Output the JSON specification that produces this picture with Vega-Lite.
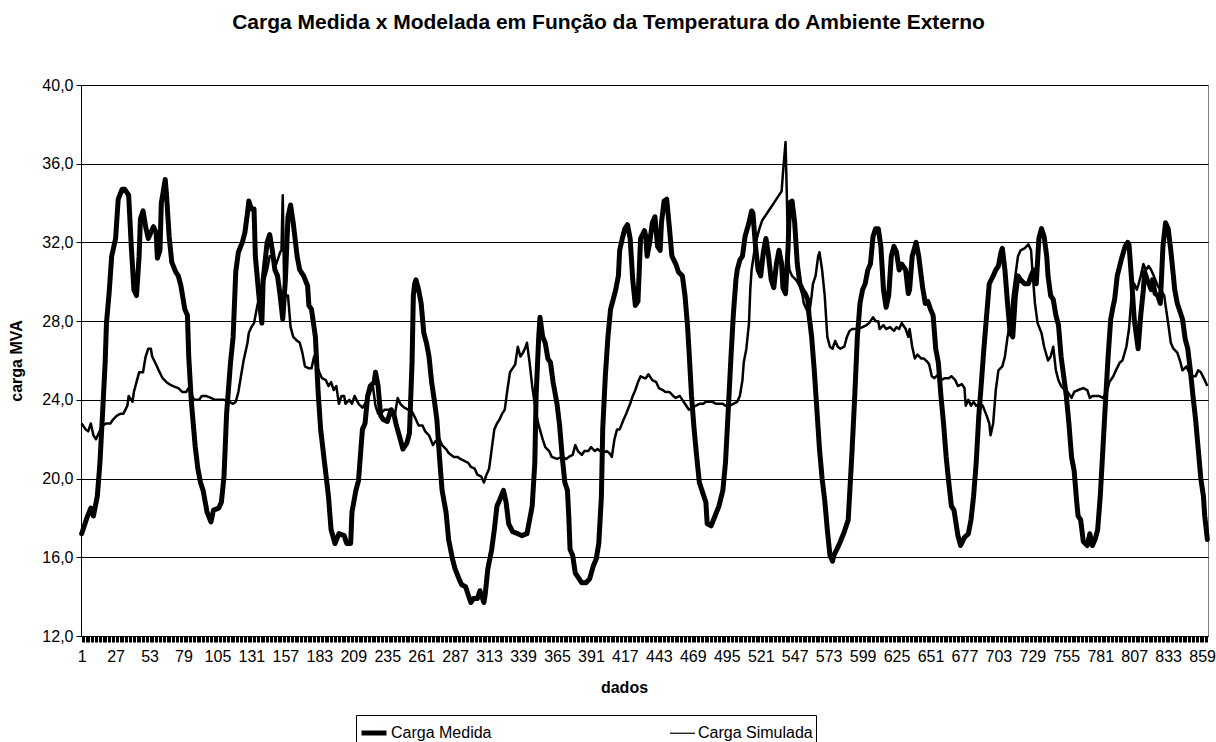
{
  "$schema": "https://vega.github.io/schema/vega-lite/v6.json",
  "width": 1127,
  "height": 551,
  "autosize": {"type": "none"},
  "padding": {"left": 81, "top": 85, "right": 8, "bottom": 106},
  "background": "white",
  "config": {"font": "Liberation Sans", "view": {"stroke": "#808080", "strokeWidth": 1}},
  "title": {"text": "Carga Medida x Modelada em Função da Temperatura do Ambiente Externo", "fontSize": 21, "fontWeight": "bold", "color": "#000", "anchor": "middle", "frame": "group", "dx": -36, "offset": 27, "baseline": "alphabetic"},
  "datasets": {
    "medida": [
      {"i":1,"v":17.2},{"i":5,"v":18.0},{"i":8,"v":18.5},{"i":10,"v":18.1},{"i":13,"v":19.1},{"i":15,"v":20.8},{"i":17,"v":23.3},{"i":19,"v":25.9},{"i":20,"v":27.9},{"i":22,"v":29.4},{"i":24,"v":31.3},{"i":27,"v":32.2},{"i":29,"v":34.2},{"i":32,"v":34.7},{"i":34,"v":34.7},{"i":37,"v":34.4},{"i":39,"v":31.8},{"i":41,"v":29.6},{"i":43,"v":29.3},{"i":45,"v":31.3},{"i":46,"v":33.2},{"i":48,"v":33.6},{"i":50,"v":32.8},{"i":52,"v":32.2},{"i":54,"v":32.5},{"i":56,"v":32.8},{"i":58,"v":32.5},{"i":59,"v":31.2},{"i":61,"v":31.6},{"i":62,"v":34.0},{"i":65,"v":35.2},{"i":66,"v":34.4},{"i":68,"v":32.3},{"i":70,"v":31.0},{"i":73,"v":30.5},{"i":75,"v":30.3},{"i":77,"v":29.8},{"i":80,"v":28.6},{"i":82,"v":28.3},{"i":83,"v":26.2},{"i":85,"v":23.9},{"i":88,"v":21.6},{"i":90,"v":20.5},{"i":92,"v":19.8},{"i":94,"v":19.4},{"i":97,"v":18.3},{"i":100,"v":17.8},{"i":102,"v":18.4},{"i":106,"v":18.5},{"i":108,"v":18.8},{"i":110,"v":20.1},{"i":112,"v":23.3},{"i":115,"v":25.9},{"i":117,"v":27.2},{"i":119,"v":30.5},{"i":121,"v":31.5},{"i":124,"v":32.0},{"i":126,"v":32.5},{"i":128,"v":33.5},{"i":129,"v":34.1},{"i":131,"v":33.7},{"i":133,"v":33.7},{"i":134,"v":31.3},{"i":137,"v":29.1},{"i":139,"v":27.9},{"i":140,"v":30.1},{"i":143,"v":32.0},{"i":145,"v":32.4},{"i":147,"v":31.6},{"i":149,"v":30.6},{"i":151,"v":30.3},{"i":153,"v":29.3},{"i":155,"v":28.1},{"i":157,"v":30.1},{"i":159,"v":33.3},{"i":161,"v":33.9},{"i":163,"v":33.0},{"i":166,"v":31.3},{"i":168,"v":30.6},{"i":171,"v":30.3},{"i":174,"v":29.8},{"i":175,"v":28.8},{"i":177,"v":28.6},{"i":180,"v":27.2},{"i":182,"v":24.5},{"i":184,"v":22.5},{"i":187,"v":20.8},{"i":190,"v":19.1},{"i":192,"v":17.4},{"i":195,"v":16.7},{"i":198,"v":17.2},{"i":202,"v":17.1},{"i":204,"v":16.7},{"i":207,"v":16.7},{"i":208,"v":18.3},{"i":211,"v":19.4},{"i":213,"v":19.9},{"i":216,"v":22.5},{"i":218,"v":22.8},{"i":220,"v":24.2},{"i":222,"v":24.7},{"i":225,"v":24.9},{"i":226,"v":25.4},{"i":228,"v":24.7},{"i":230,"v":23.2},{"i":232,"v":23.0},{"i":235,"v":22.9},{"i":238,"v":23.5},{"i":240,"v":23.3},{"i":242,"v":22.7},{"i":245,"v":22.0},{"i":247,"v":21.5},{"i":250,"v":21.8},{"i":252,"v":22.3},{"i":254,"v":25.9},{"i":255,"v":29.3},{"i":256,"v":29.9},{"i":257,"v":30.1},{"i":259,"v":29.6},{"i":261,"v":28.9},{"i":263,"v":27.4},{"i":265,"v":26.9},{"i":267,"v":26.2},{"i":269,"v":24.9},{"i":271,"v":24.0},{"i":273,"v":23.0},{"i":275,"v":21.1},{"i":277,"v":19.4},{"i":280,"v":18.3},{"i":282,"v":16.9},{"i":285,"v":15.9},{"i":287,"v":15.4},{"i":290,"v":14.9},{"i":292,"v":14.6},{"i":295,"v":14.5},{"i":297,"v":14.1},{"i":299,"v":13.7},{"i":301,"v":13.9},{"i":304,"v":13.9},{"i":306,"v":14.3},{"i":309,"v":13.7},{"i":310,"v":14.1},{"i":312,"v":15.4},{"i":315,"v":16.4},{"i":317,"v":17.4},{"i":319,"v":18.6},{"i":321,"v":18.9},{"i":324,"v":19.4},{"i":326,"v":18.8},{"i":328,"v":17.7},{"i":331,"v":17.3},{"i":335,"v":17.2},{"i":338,"v":17.1},{"i":342,"v":17.2},{"i":344,"v":17.9},{"i":346,"v":18.6},{"i":348,"v":20.8},{"i":349,"v":24.2},{"i":351,"v":27.2},{"i":352,"v":28.2},{"i":354,"v":27.2},{"i":356,"v":26.9},{"i":358,"v":26.1},{"i":360,"v":25.9},{"i":362,"v":24.9},{"i":365,"v":23.8},{"i":367,"v":22.7},{"i":369,"v":21.1},{"i":371,"v":19.8},{"i":373,"v":19.4},{"i":374,"v":18.1},{"i":375,"v":16.4},{"i":377,"v":16.1},{"i":379,"v":15.2},{"i":382,"v":14.9},{"i":384,"v":14.7},{"i":387,"v":14.7},{"i":390,"v":14.9},{"i":393,"v":15.6},{"i":395,"v":15.9},{"i":397,"v":16.7},{"i":399,"v":19.1},{"i":400,"v":22.5},{"i":402,"v":25.2},{"i":404,"v":27.2},{"i":406,"v":28.6},{"i":408,"v":29.1},{"i":410,"v":29.6},{"i":412,"v":30.3},{"i":413,"v":31.6},{"i":415,"v":32.2},{"i":417,"v":32.7},{"i":419,"v":32.9},{"i":421,"v":32.2},{"i":423,"v":30.1},{"i":425,"v":28.8},{"i":427,"v":29.0},{"i":429,"v":32.2},{"i":432,"v":32.6},{"i":433,"v":32.3},{"i":434,"v":31.3},{"i":436,"v":32.0},{"i":438,"v":33.0},{"i":440,"v":33.3},{"i":442,"v":31.8},{"i":444,"v":31.6},{"i":445,"v":33.0},{"i":447,"v":34.1},{"i":449,"v":34.2},{"i":451,"v":32.8},{"i":453,"v":31.3},{"i":456,"v":30.9},{"i":458,"v":30.5},{"i":461,"v":30.3},{"i":463,"v":29.3},{"i":465,"v":27.7},{"i":466,"v":26.6},{"i":468,"v":24.2},{"i":470,"v":22.5},{"i":472,"v":21.1},{"i":474,"v":19.8},{"i":476,"v":19.4},{"i":479,"v":18.8},{"i":480,"v":17.7},{"i":483,"v":17.6},{"i":486,"v":18.1},{"i":489,"v":18.6},{"i":492,"v":19.4},{"i":494,"v":20.8},{"i":496,"v":23.3},{"i":498,"v":25.9},{"i":500,"v":28.3},{"i":502,"v":30.1},{"i":503,"v":30.6},{"i":505,"v":31.1},{"i":507,"v":31.3},{"i":509,"v":32.3},{"i":512,"v":33.0},{"i":514,"v":33.6},{"i":515,"v":33.5},{"i":517,"v":31.8},{"i":519,"v":30.6},{"i":521,"v":30.3},{"i":523,"v":31.5},{"i":525,"v":32.2},{"i":527,"v":31.3},{"i":529,"v":30.1},{"i":531,"v":29.7},{"i":533,"v":30.9},{"i":535,"v":31.6},{"i":537,"v":30.9},{"i":538,"v":29.7},{"i":540,"v":29.4},{"i":542,"v":31.8},{"i":543,"v":34.0},{"i":545,"v":34.1},{"i":547,"v":33.0},{"i":549,"v":30.9},{"i":551,"v":29.9},{"i":553,"v":29.6},{"i":555,"v":29.4},{"i":557,"v":29.1},{"i":558,"v":28.3},{"i":560,"v":27.2},{"i":562,"v":25.5},{"i":564,"v":23.5},{"i":566,"v":21.5},{"i":568,"v":20.0},{"i":570,"v":18.9},{"i":572,"v":17.4},{"i":574,"v":16.1},{"i":576,"v":15.8},{"i":577,"v":16.1},{"i":580,"v":16.5},{"i":582,"v":16.8},{"i":585,"v":17.3},{"i":588,"v":17.9},{"i":589,"v":19.1},{"i":591,"v":21.5},{"i":593,"v":24.2},{"i":595,"v":27.2},{"i":597,"v":28.9},{"i":599,"v":29.6},{"i":601,"v":29.9},{"i":603,"v":30.6},{"i":605,"v":30.9},{"i":607,"v":32.3},{"i":609,"v":32.7},{"i":611,"v":32.7},{"i":613,"v":31.8},{"i":615,"v":29.6},{"i":617,"v":28.7},{"i":619,"v":29.3},{"i":621,"v":31.3},{"i":623,"v":31.8},{"i":625,"v":31.5},{"i":627,"v":30.6},{"i":629,"v":30.9},{"i":632,"v":30.6},{"i":634,"v":29.4},{"i":635,"v":29.6},{"i":637,"v":31.3},{"i":640,"v":32.0},{"i":642,"v":31.3},{"i":645,"v":29.7},{"i":647,"v":28.9},{"i":649,"v":29.0},{"i":651,"v":28.6},{"i":653,"v":28.3},{"i":655,"v":26.6},{"i":657,"v":25.9},{"i":659,"v":24.2},{"i":661,"v":22.8},{"i":663,"v":21.1},{"i":665,"v":19.8},{"i":667,"v":18.6},{"i":669,"v":18.4},{"i":672,"v":17.1},{"i":674,"v":16.6},{"i":677,"v":17.0},{"i":680,"v":17.2},{"i":682,"v":17.9},{"i":684,"v":19.1},{"i":686,"v":20.8},{"i":688,"v":23.2},{"i":690,"v":24.9},{"i":692,"v":26.7},{"i":694,"v":28.3},{"i":696,"v":29.9},{"i":699,"v":30.3},{"i":701,"v":30.6},{"i":703,"v":30.8},{"i":705,"v":31.5},{"i":706,"v":31.7},{"i":708,"v":30.6},{"i":710,"v":28.9},{"i":712,"v":27.4},{"i":714,"v":27.2},{"i":716,"v":29.3},{"i":718,"v":30.3},{"i":720,"v":30.1},{"i":723,"v":29.9},{"i":726,"v":29.9},{"i":728,"v":30.3},{"i":730,"v":30.6},{"i":732,"v":29.9},{"i":734,"v":32.2},{"i":736,"v":32.7},{"i":738,"v":32.3},{"i":740,"v":31.3},{"i":741,"v":30.3},{"i":743,"v":29.3},{"i":745,"v":29.1},{"i":747,"v":28.3},{"i":749,"v":27.8},{"i":751,"v":26.2},{"i":753,"v":25.2},{"i":755,"v":24.2},{"i":757,"v":22.8},{"i":759,"v":21.1},{"i":761,"v":20.4},{"i":763,"v":18.8},{"i":764,"v":18.1},{"i":766,"v":17.9},{"i":768,"v":16.8},{"i":771,"v":16.6},{"i":773,"v":17.2},{"i":775,"v":16.6},{"i":777,"v":16.9},{"i":779,"v":17.4},{"i":781,"v":19.1},{"i":783,"v":21.5},{"i":785,"v":23.9},{"i":787,"v":26.2},{"i":789,"v":28.1},{"i":791,"v":28.8},{"i":792,"v":29.1},{"i":794,"v":30.3},{"i":797,"v":31.1},{"i":800,"v":31.8},{"i":802,"v":32.0},{"i":803,"v":31.9},{"i":805,"v":30.1},{"i":807,"v":28.1},{"i":809,"v":27.1},{"i":810,"v":26.6},{"i":812,"v":28.3},{"i":814,"v":29.6},{"i":815,"v":30.5},{"i":817,"v":30.1},{"i":820,"v":29.6},{"i":821,"v":30.1},{"i":823,"v":29.4},{"i":825,"v":29.3},{"i":827,"v":28.9},{"i":829,"v":31.8},{"i":831,"v":33.0},{"i":833,"v":32.7},{"i":835,"v":31.6},{"i":837,"v":30.3},{"i":838,"v":29.6},{"i":840,"v":28.9},{"i":843,"v":28.3},{"i":844,"v":28.1},{"i":846,"v":27.1},{"i":848,"v":26.6},{"i":850,"v":25.5},{"i":852,"v":24.2},{"i":854,"v":23.0},{"i":856,"v":21.5},{"i":858,"v":20.0},{"i":860,"v":19.1},{"i":861,"v":18.1},{"i":863,"v":16.9}
    ],
    "simulada": [
      {"i":1,"v":22.8},{"i":4,"v":22.5},{"i":6,"v":22.4},{"i":8,"v":22.8},{"i":10,"v":22.2},{"i":12,"v":22.0},{"i":14,"v":22.3},{"i":17,"v":22.7},{"i":20,"v":22.8},{"i":23,"v":22.8},{"i":25,"v":23.0},{"i":28,"v":23.2},{"i":31,"v":23.3},{"i":33,"v":23.3},{"i":36,"v":23.7},{"i":37,"v":24.2},{"i":40,"v":23.9},{"i":41,"v":24.4},{"i":43,"v":24.9},{"i":45,"v":25.4},{"i":48,"v":25.4},{"i":50,"v":26.2},{"i":52,"v":26.6},{"i":54,"v":26.6},{"i":55,"v":26.2},{"i":58,"v":25.8},{"i":60,"v":25.5},{"i":63,"v":25.1},{"i":66,"v":24.9},{"i":68,"v":24.8},{"i":71,"v":24.7},{"i":75,"v":24.6},{"i":78,"v":24.4},{"i":81,"v":24.4},{"i":83,"v":24.6},{"i":87,"v":24.0},{"i":91,"v":24.0},{"i":93,"v":24.2},{"i":96,"v":24.2},{"i":100,"v":24.1},{"i":103,"v":24.0},{"i":107,"v":24.0},{"i":110,"v":24.0},{"i":114,"v":23.9},{"i":117,"v":23.8},{"i":119,"v":23.9},{"i":121,"v":24.4},{"i":123,"v":25.2},{"i":125,"v":26.0},{"i":128,"v":26.9},{"i":129,"v":27.4},{"i":131,"v":27.7},{"i":133,"v":27.9},{"i":135,"v":28.6},{"i":138,"v":29.6},{"i":140,"v":29.9},{"i":143,"v":30.6},{"i":145,"v":31.3},{"i":148,"v":31.3},{"i":150,"v":30.9},{"i":153,"v":31.5},{"i":154,"v":31.6},{"i":155,"v":34.4},{"i":156,"v":30.1},{"i":157,"v":29.3},{"i":159,"v":29.3},{"i":161,"v":27.7},{"i":163,"v":27.2},{"i":166,"v":27.0},{"i":168,"v":26.9},{"i":170,"v":26.4},{"i":172,"v":25.7},{"i":175,"v":25.6},{"i":177,"v":25.6},{"i":179,"v":26.2},{"i":180,"v":25.9},{"i":183,"v":25.4},{"i":185,"v":25.1},{"i":188,"v":25.0},{"i":190,"v":24.7},{"i":192,"v":24.9},{"i":194,"v":24.5},{"i":196,"v":24.7},{"i":198,"v":23.8},{"i":200,"v":24.2},{"i":202,"v":24.2},{"i":203,"v":23.8},{"i":206,"v":24.0},{"i":208,"v":23.8},{"i":210,"v":24.2},{"i":213,"v":23.8},{"i":216,"v":23.6},{"i":220,"v":24.0},{"i":222,"v":24.4},{"i":224,"v":24.7},{"i":226,"v":23.7},{"i":228,"v":23.3},{"i":230,"v":23.3},{"i":233,"v":23.5},{"i":236,"v":23.5},{"i":238,"v":23.5},{"i":241,"v":23.3},{"i":243,"v":24.1},{"i":245,"v":23.8},{"i":248,"v":23.6},{"i":251,"v":23.5},{"i":254,"v":23.4},{"i":257,"v":23.0},{"i":259,"v":22.7},{"i":262,"v":22.7},{"i":264,"v":22.4},{"i":267,"v":22.2},{"i":270,"v":21.7},{"i":272,"v":21.9},{"i":275,"v":22.0},{"i":277,"v":21.7},{"i":280,"v":21.5},{"i":282,"v":21.3},{"i":286,"v":21.1},{"i":289,"v":21.1},{"i":291,"v":21.0},{"i":294,"v":20.9},{"i":297,"v":20.8},{"i":299,"v":20.6},{"i":302,"v":20.5},{"i":304,"v":20.2},{"i":307,"v":20.1},{"i":309,"v":19.8},{"i":311,"v":20.2},{"i":313,"v":20.5},{"i":315,"v":21.5},{"i":317,"v":22.5},{"i":319,"v":22.8},{"i":321,"v":23.0},{"i":323,"v":23.3},{"i":325,"v":23.5},{"i":327,"v":24.5},{"i":329,"v":25.4},{"i":332,"v":25.7},{"i":333,"v":25.8},{"i":335,"v":26.7},{"i":337,"v":26.2},{"i":339,"v":26.4},{"i":341,"v":26.7},{"i":342,"v":26.9},{"i":344,"v":25.9},{"i":346,"v":24.7},{"i":349,"v":23.3},{"i":351,"v":22.7},{"i":354,"v":22.0},{"i":356,"v":21.6},{"i":359,"v":21.4},{"i":361,"v":21.1},{"i":365,"v":21.0},{"i":369,"v":21.1},{"i":372,"v":21.0},{"i":374,"v":21.1},{"i":377,"v":21.2},{"i":379,"v":21.7},{"i":381,"v":21.4},{"i":384,"v":21.2},{"i":386,"v":21.4},{"i":389,"v":21.4},{"i":391,"v":21.6},{"i":394,"v":21.4},{"i":396,"v":21.5},{"i":400,"v":21.3},{"i":403,"v":21.4},{"i":405,"v":21.3},{"i":407,"v":21.1},{"i":409,"v":22.0},{"i":411,"v":22.5},{"i":413,"v":22.5},{"i":416,"v":23.0},{"i":418,"v":23.3},{"i":421,"v":23.8},{"i":423,"v":24.2},{"i":425,"v":24.5},{"i":427,"v":24.9},{"i":429,"v":25.2},{"i":432,"v":25.1},{"i":433,"v":25.1},{"i":435,"v":25.3},{"i":438,"v":25.0},{"i":441,"v":24.9},{"i":443,"v":24.6},{"i":446,"v":24.5},{"i":448,"v":24.4},{"i":451,"v":24.4},{"i":454,"v":24.2},{"i":456,"v":24.1},{"i":459,"v":24.2},{"i":461,"v":24.0},{"i":464,"v":23.7},{"i":466,"v":23.5},{"i":469,"v":23.6},{"i":471,"v":23.7},{"i":474,"v":23.8},{"i":477,"v":23.8},{"i":479,"v":23.9},{"i":482,"v":23.9},{"i":484,"v":23.9},{"i":487,"v":23.8},{"i":489,"v":23.8},{"i":492,"v":23.8},{"i":494,"v":23.7},{"i":497,"v":23.7},{"i":500,"v":23.8},{"i":503,"v":23.9},{"i":505,"v":24.2},{"i":507,"v":25.0},{"i":508,"v":25.9},{"i":510,"v":26.6},{"i":512,"v":27.9},{"i":513,"v":29.6},{"i":514,"v":30.6},{"i":516,"v":31.5},{"i":518,"v":32.2},{"i":520,"v":32.7},{"i":522,"v":33.1},{"i":525,"v":33.4},{"i":528,"v":33.7},{"i":531,"v":34.0},{"i":534,"v":34.3},{"i":537,"v":34.6},{"i":538,"v":35.5},{"i":540,"v":37.1},{"i":541,"v":34.4},{"i":542,"v":31.3},{"i":543,"v":30.6},{"i":545,"v":30.3},{"i":548,"v":30.1},{"i":551,"v":29.8},{"i":553,"v":29.3},{"i":554,"v":28.9},{"i":556,"v":28.6},{"i":558,"v":28.3},{"i":560,"v":29.3},{"i":561,"v":29.9},{"i":563,"v":30.3},{"i":565,"v":31.3},{"i":566,"v":31.5},{"i":568,"v":30.6},{"i":570,"v":29.3},{"i":572,"v":27.2},{"i":574,"v":26.7},{"i":576,"v":26.6},{"i":578,"v":27.0},{"i":580,"v":26.7},{"i":582,"v":26.6},{"i":585,"v":26.7},{"i":587,"v":27.2},{"i":589,"v":27.5},{"i":591,"v":27.6},{"i":595,"v":27.6},{"i":599,"v":27.7},{"i":602,"v":27.8},{"i":604,"v":27.9},{"i":607,"v":28.2},{"i":609,"v":28.0},{"i":611,"v":28.0},{"i":612,"v":27.6},{"i":615,"v":27.8},{"i":617,"v":27.6},{"i":620,"v":27.7},{"i":623,"v":27.5},{"i":625,"v":27.7},{"i":627,"v":27.6},{"i":629,"v":27.9},{"i":632,"v":27.6},{"i":634,"v":27.2},{"i":635,"v":27.6},{"i":637,"v":26.7},{"i":639,"v":26.1},{"i":641,"v":26.3},{"i":644,"v":26.1},{"i":646,"v":26.1},{"i":649,"v":25.9},{"i":650,"v":25.8},{"i":652,"v":25.2},{"i":654,"v":25.1},{"i":657,"v":25.3},{"i":659,"v":25.0},{"i":662,"v":25.1},{"i":665,"v":25.1},{"i":667,"v":25.2},{"i":670,"v":25.0},{"i":672,"v":24.7},{"i":675,"v":24.8},{"i":677,"v":24.6},{"i":678,"v":23.7},{"i":680,"v":24.0},{"i":682,"v":23.7},{"i":684,"v":23.9},{"i":686,"v":23.7},{"i":689,"v":23.8},{"i":691,"v":23.7},{"i":694,"v":23.2},{"i":696,"v":22.8},{"i":697,"v":22.2},{"i":699,"v":22.8},{"i":701,"v":24.5},{"i":703,"v":25.5},{"i":706,"v":25.7},{"i":708,"v":26.2},{"i":710,"v":27.2},{"i":712,"v":27.9},{"i":714,"v":29.3},{"i":716,"v":30.3},{"i":718,"v":31.3},{"i":720,"v":31.6},{"i":723,"v":31.7},{"i":726,"v":31.9},{"i":728,"v":31.6},{"i":729,"v":30.6},{"i":731,"v":28.9},{"i":733,"v":27.9},{"i":736,"v":27.4},{"i":738,"v":26.7},{"i":741,"v":26.0},{"i":743,"v":26.2},{"i":745,"v":26.7},{"i":747,"v":25.5},{"i":749,"v":25.0},{"i":751,"v":24.7},{"i":754,"v":24.5},{"i":756,"v":24.4},{"i":759,"v":24.1},{"i":761,"v":24.4},{"i":764,"v":24.5},{"i":768,"v":24.6},{"i":771,"v":24.5},{"i":773,"v":24.1},{"i":775,"v":24.2},{"i":778,"v":24.2},{"i":780,"v":24.2},{"i":783,"v":24.1},{"i":786,"v":24.4},{"i":788,"v":24.9},{"i":791,"v":25.2},{"i":793,"v":25.5},{"i":796,"v":25.9},{"i":798,"v":26.0},{"i":801,"v":26.7},{"i":803,"v":27.6},{"i":805,"v":29.3},{"i":807,"v":29.9},{"i":809,"v":29.6},{"i":810,"v":29.8},{"i":812,"v":30.3},{"i":814,"v":30.9},{"i":816,"v":30.6},{"i":818,"v":30.8},{"i":820,"v":30.6},{"i":822,"v":30.3},{"i":825,"v":29.8},{"i":827,"v":29.6},{"i":830,"v":29.3},{"i":831,"v":28.8},{"i":833,"v":27.9},{"i":835,"v":26.9},{"i":837,"v":26.6},{"i":840,"v":26.4},{"i":842,"v":26.0},{"i":844,"v":25.5},{"i":847,"v":25.7},{"i":849,"v":25.4},{"i":852,"v":25.2},{"i":854,"v":25.2},{"i":856,"v":25.5},{"i":858,"v":25.4},{"i":861,"v":25.0},{"i":863,"v":24.7}
    ]
  },
  "encoding": {
    "x": {"field": "i", "type": "quantitative",
      "scale": {"domain": [0.5, 863.5], "nice": false, "zero": false},
      "axis": {"title": "dados", "tickCount": 863, "format": "d",
        "labelExpr": "(datum.value - 1) % 26 == 0 ? datum.label : ''",
        "labelOverlap": false, "labelFlush": false, "labelFontSize": 16, "labelColor": "#000", "labelPadding": 6,
        "tickSize": 6, "tickColor": "#000", "tickWidth": 1, "domainColor": "#000", "grid": false,
        "titleFontSize": 16, "titleFontWeight": "bold", "titleColor": "#000", "titleX": 543, "titleY": 56, "titleBaseline": "alphabetic"}},
    "y": {"field": "v", "type": "quantitative",
      "scale": {"domain": [12, 40], "nice": false, "zero": false},
      "axis": {"title": "carga MVA", "values": [12, 16, 20, 24, 28, 32, 36, 40],
        "labelExpr": "replace(format(datum.value, '.1f'), '.', ',')",
        "labelFontSize": 16, "labelColor": "#000", "labelPadding": 3,
        "tickSize": 5, "tickColor": "#000", "domainColor": "#000",
        "grid": true, "gridColor": "#000", "gridOpacity": 1,
        "titleFontSize": 16, "titleFontWeight": "bold", "titleColor": "#000", "titleX": -57, "titleY": 275.5}}
  },
  "layer": [
    {"data": {"name": "medida"},
     "mark": {"type": "line", "color": "#000", "strokeJoin": "round", "strokeCap": "round"},
     "encoding": {"strokeWidth": {"datum": "Carga Medida", "type": "nominal",
        "scale": {"type": "ordinal", "domain": ["Carga Medida", "Carga Simulada"], "range": [5, 1.2]},
        "legend": {"orient": "none", "legendX": 275, "legendY": 630, "direction": "horizontal", "title": null,
          "strokeColor": "#000", "fillColor": "white", "padding": 3, "symbolType": "stroke", "symbolSize": 625,
          "symbolStrokeColor": "#000", "labelFontSize": 16, "labelColor": "#000", "labelOffset": 2, "columnPadding": 175}}}},
    {"data": {"name": "simulada"},
     "mark": {"type": "line", "color": "#000", "strokeJoin": "round"},
     "encoding": {"strokeWidth": {"datum": "Carga Simulada", "type": "nominal"}}}
  ]
}
